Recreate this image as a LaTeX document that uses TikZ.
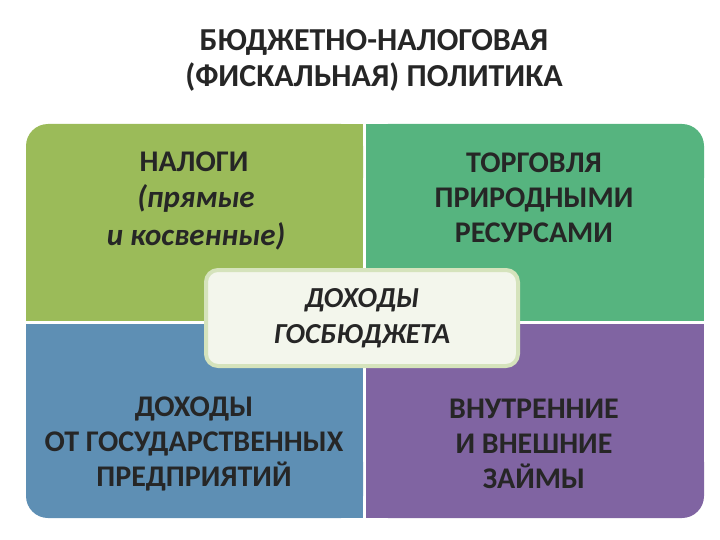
\documentclass[tikz,border=0pt]{standalone}
\usepackage{fontspec}
\setmainfont{Carlito}
\definecolor{cgreen}{HTML}{9BBB59}
\definecolor{cteal}{HTML}{56B47F}
\definecolor{cblue}{HTML}{5E8FB4}
\definecolor{cpurple}{HTML}{8064A2}
\definecolor{cfill}{HTML}{F3F6EC}
\definecolor{cborder}{HTML}{D5E3BC}
\definecolor{ctext}{HTML}{262626}
\tikzset{
  lbl/.style={align=center,text=ctext,font=\bfseries\fontsize{30}{35}\selectfont},
}
\begin{document}
\begin{tikzpicture}[x=1pt,y=-1pt]
\useasboundingbox (0,0) rectangle (720,540);
\node[lbl,font=\bfseries\fontsize{32}{36}\selectfont] (title) at (374,60) {БЮДЖЕТНО-НАЛОГОВАЯ\\(ФИСКАЛЬНАЯ) ПОЛИТИКА};
\fill[cgreen,rounded corners=22pt] (26,124) rectangle (363,200);
\fill[cgreen] (26,160) rectangle (363,321);
\fill[cgreen] (200,124) rectangle (363,321);
\fill[cteal,rounded corners=22pt] (366,124) rectangle (704,200);
\fill[cteal] (366,124) rectangle (500,321);
\fill[cteal] (366,160) rectangle (704,321);
\fill[cblue,rounded corners=22pt] (26,440) rectangle (363,518);
\fill[cblue] (26,324) rectangle (363,480);
\fill[cblue] (200,324) rectangle (363,518);
\fill[cpurple,rounded corners=22pt] (366,440) rectangle (704,518);
\fill[cpurple] (366,324) rectangle (704,480);
\fill[cpurple] (366,324) rectangle (500,518);
\node[lbl] (tl1) at (194,162) {НАЛОГИ};
\node[lbl,font=\bfseries\itshape\fontsize{31}{38}\selectfont] (tl2) at (196,217) {(прямые\\ и косвенные)};
\node[lbl] (tr) at (534,198) {ТОРГОВЛЯ\\ПРИРОДНЫМИ\\РЕСУРСАМИ};
\node[lbl] (bl) at (194,444) {ДОХОДЫ\\ОТ ГОСУДАРСТВЕННЫХ\\ПРЕДПРИЯТИЙ};
\node[lbl] (br) at (534,444) {ВНУТРЕННИЕ\\И ВНЕШНИЕ\\ЗАЙМЫ};
\node[draw=cborder,fill=cfill,line width=4pt,rounded corners=12pt,minimum width=312pt,minimum height=96pt,lbl,font=\bfseries\itshape\fontsize{29}{36}\selectfont] (center) at (362,318) {ДОХОДЫ\\ГОСБЮДЖЕТА};
\end{tikzpicture}
\end{document}
